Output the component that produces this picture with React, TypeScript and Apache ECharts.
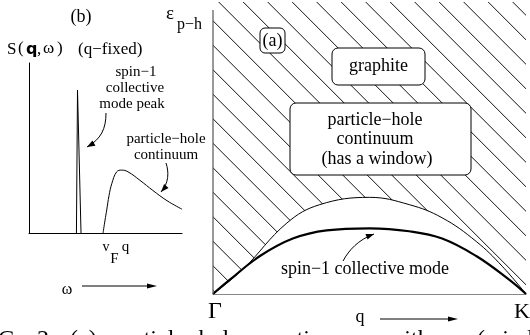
import React, { useEffect, useRef } from 'react';
import * as echarts from 'echarts';

// ---- Panel (b): S(q, ω) at fixed q ----
const spikeOmega = [3.1, 3.17, 3.4];
const spikeS = [0, 0.84, 0];
const contOmega = [4.84, 4.97, 5.08, 5.23, 5.41, 5.73, 6.06, 6.47, 7.25, 8.1, 9.02, 10.0];
const contS = [0, 0.076, 0.135, 0.22, 0.29, 0.36, 0.37, 0.36, 0.31, 0.25, 0.19, 0.14];

// ---- Panel (a): energies along Γ → K ----
const qEdge = [0, 0.096, 0.236, 0.341, 0.5, 0.627, 0.732, 0.841, 0.924, 1.0];
const eEdge = [0, 0.085, 0.243, 0.306, 0.331, 0.306, 0.261, 0.18, 0.095, 0.0];
const qMode = [0, 0.054, 0.15, 0.255, 0.363, 0.5, 0.627, 0.732, 0.841, 0.946, 1.0];
const eMode = [0, 0.049, 0.13, 0.19, 0.218, 0.225, 0.215, 0.19, 0.13, 0.049, 0.0];
const eAxisExtent = [0, 0.973];

const SERIF = '"Liberation Serif", "DejaVu Serif", serif';

function txt(text: string, x: number, y: number, size: number, align = 'center', extra: any = {}) {
  return {
    type: 'text',
    x,
    y,
    z: 10,
    style: {
      text,
      font: `${extra.weight || 'normal'} ${size}px ${extra.family || SERIF}`,
      fill: '#000',
      align,
      textAlign: align,
      verticalAlign: 'middle',
      textVerticalAlign: 'middle',
    },
  };
}

function head(tip: number[], from: number[], len = 8, half = 3) {
  const dx = tip[0] - from[0];
  const dy = tip[1] - from[1];
  const L = Math.hypot(dx, dy);
  const ux = dx / L;
  const uy = dy / L;
  const bx = tip[0] - ux * len;
  const by = tip[1] - uy * len;
  return {
    type: 'polygon',
    z: 10,
    shape: { points: [tip, [bx - uy * half, by + ux * half], [bx + uy * half, by - ux * half]] },
    style: { fill: '#000', stroke: null },
  };
}

function curveArrow(p0: number[], c1: number[], c2: number[], p1: number[]) {
  return [
    {
      type: 'bezierCurve',
      z: 10,
      shape: { x1: p0[0], y1: p0[1], cpx1: c1[0], cpy1: c1[1], cpx2: c2[0], cpy2: c2[1], x2: p1[0], y2: p1[1] },
      style: { stroke: '#000', lineWidth: 1, fill: null },
    },
    head(p1, c2),
  ];
}

function straightArrow(x1: number, x2: number, y: number) {
  return [
    { type: 'line', z: 10, shape: { x1, y1: y, x2: x2 - 6, y2: y }, style: { stroke: '#000', lineWidth: 1 } },
    head([x2, y], [x1, y], 10, 2.5),
  ];
}

function box(x: number, y: number, w: number, h: number, r = 6) {
  return {
    type: 'rect',
    z: 8,
    shape: { x, y, width: w, height: h, r },
    style: { fill: '#fff', stroke: '#000', lineWidth: 1 },
  };
}

const hidden = { axisTick: { show: false }, axisLabel: { show: false }, splitLine: { show: false } };

export default function App() {
  const ref = useRef<HTMLDivElement>(null);
  useEffect(() => {
    document.body.style.margin = '0';
    const chart = echarts.init(ref.current!, null, { renderer: 'svg' });

    // hatch tile: 45° lines, spacing 24.5px
    const tile = document.createElement('canvas');
    tile.width = 49;
    tile.height = 49;
    const ctx = tile.getContext('2d')!;
    ctx.strokeStyle = '#111';
    ctx.lineWidth = 1;
    for (const c of [-77.3, -52.8, -28.3, -3.8, 20.7, 45.2, 69.7]) {
      ctx.beginPath();
      ctx.moveTo(c - 10, -10);
      ctx.lineTo(c + 60, 60);
      ctx.stroke();
    }
    const hatch: any = { image: tile, repeat: 'repeat', imageWidth: 49, imageHeight: 49 };

    const graphic: any[] = [
      // panel (b) labels
      txt('(b)', 81, 16, 18),
      txt('S', 7, 48, 17, 'left'),
      txt('(', 18, 47, 17, 'left'),
      txt('q', 26, 48, 16, 'left', { weight: 'bold', family: '"DejaVu Sans", sans-serif' }),
      txt(',', 37, 48, 17, 'left'),
      txt('ω', 43, 47, 17, 'left'),
      txt(')', 57, 47, 17, 'left'),
      txt('(q−fixed)', 78, 48, 17, 'left'),
      txt('spin−1', 136, 71, 15),
      txt('collective', 135, 87, 15),
      txt('mode peak', 132, 103, 15),
      txt('particle−hole', 166, 138, 15),
      txt('continuum', 166, 154, 15),
      txt('v', 106, 246, 14),
      txt('F', 114.5, 258, 15),
      txt('q', 125.5, 246, 15),
      txt('ω', 67, 288, 16),
      ...straightArrow(82, 157, 286),
      ...curveArrow([106, 113], [106, 129], [101, 139], [87, 147]),
      ...curveArrow([166, 163], [169, 172], [169, 183], [161, 192]),
      // panel (a) labels
      txt('ε', 170, 12, 19),
      txt('p−h', 177, 23, 16, 'left'),
      box(260, 28, 25, 25, 5),
      txt('(a)', 272.5, 40, 18),
      box(332, 48, 93, 37, 6),
      txt('graphite', 378.5, 65, 18),
      box(290, 103, 181, 72, 6),
      txt('particle−hole', 375, 119, 18),
      txt('continuum', 375, 138, 18),
      txt('(has a window)', 377, 158, 18),
      txt('spin−1 collective mode', 365, 268, 18),
      ...curveArrow([343, 261], [349, 250], [358, 240], [374, 234]),
      txt('Γ', 215, 310, 24),
      txt('K', 522, 310, 22),
      txt('q', 360, 316, 18),
      ...straightArrow(380, 458, 319),
      // caption, cropped by the bottom edge as in the source figure
      txt('G.', -2, 338, 24, 'left'),
      txt('2:', 37, 338, 24, 'left'),
      txt('(a)', 70, 338, 24, 'left'),
      txt('particle−hole', 113, 338, 24, 'left'),
      txt('continuum', 262, 338, 24, 'left'),
      txt('with', 387, 338, 24, 'left'),
      txt('a', 446, 338, 24, 'left'),
      txt('(window)', 477, 338, 24, 'left'),
    ];

    const option: any = {
      animation: false,
      grid: [
        { left: 29, top: 63, width: 153, height: 170 },
        { left: 213, top: 2, width: 313, height: 292 },
      ],
      xAxis: [
        { gridIndex: 0, type: 'value', min: 0, max: 10, axisLine: { show: true, onZero: false, lineStyle: { color: '#000', width: 1 } }, ...hidden },
        { gridIndex: 1, type: 'value', min: 0, max: 1, axisLine: { show: true, onZero: false, lineStyle: { color: '#888', width: 1 } }, ...hidden },
      ],
      yAxis: [
        { gridIndex: 0, type: 'value', min: 0, max: 1, axisLine: { show: true, onZero: false, lineStyle: { color: '#000', width: 1 } }, ...hidden },
        { gridIndex: 1, type: 'value', min: 0, max: 1, axisLine: { show: false }, ...hidden },
      ],
      series: [
        {
          type: 'line', xAxisIndex: 0, yAxisIndex: 0, symbol: 'none',
          data: spikeOmega.map((w, i) => [w, spikeS[i]]),
          lineStyle: { color: '#000', width: 1 },
        },
        {
          type: 'line', xAxisIndex: 0, yAxisIndex: 0, symbol: 'none', smooth: 0.4,
          data: contOmega.map((w, i) => [w, contS[i]]),
          lineStyle: { color: '#000', width: 1 },
        },
        {
          type: 'line', xAxisIndex: 1, yAxisIndex: 1, symbol: 'none', smooth: 0.4, z: 1,
          data: qEdge.map((q, i) => [q, eEdge[i]]),
          lineStyle: { color: '#000', width: 1 },
          areaStyle: { color: hatch, origin: 'end', opacity: 1 },
        },
        {
          type: 'line', xAxisIndex: 1, yAxisIndex: 1, symbol: 'none', smooth: 0.4, z: 3,
          data: qMode.map((q, i) => [q, eMode[i]]),
          lineStyle: { color: '#000', width: 2.2 },
        },
        {
          type: 'line', xAxisIndex: 1, yAxisIndex: 1, symbol: 'none', z: 3,
          data: eAxisExtent.map((e) => [0, e]),
          lineStyle: { color: '#555', width: 1.2 },
        },
      ],
      graphic,
    };
    chart.setOption(option);
    return () => chart.dispose();
  }, []);
  return <div ref={ref} style={{ position: 'fixed', left: 0, top: 0, width: 530, height: 335 }} />;
}
